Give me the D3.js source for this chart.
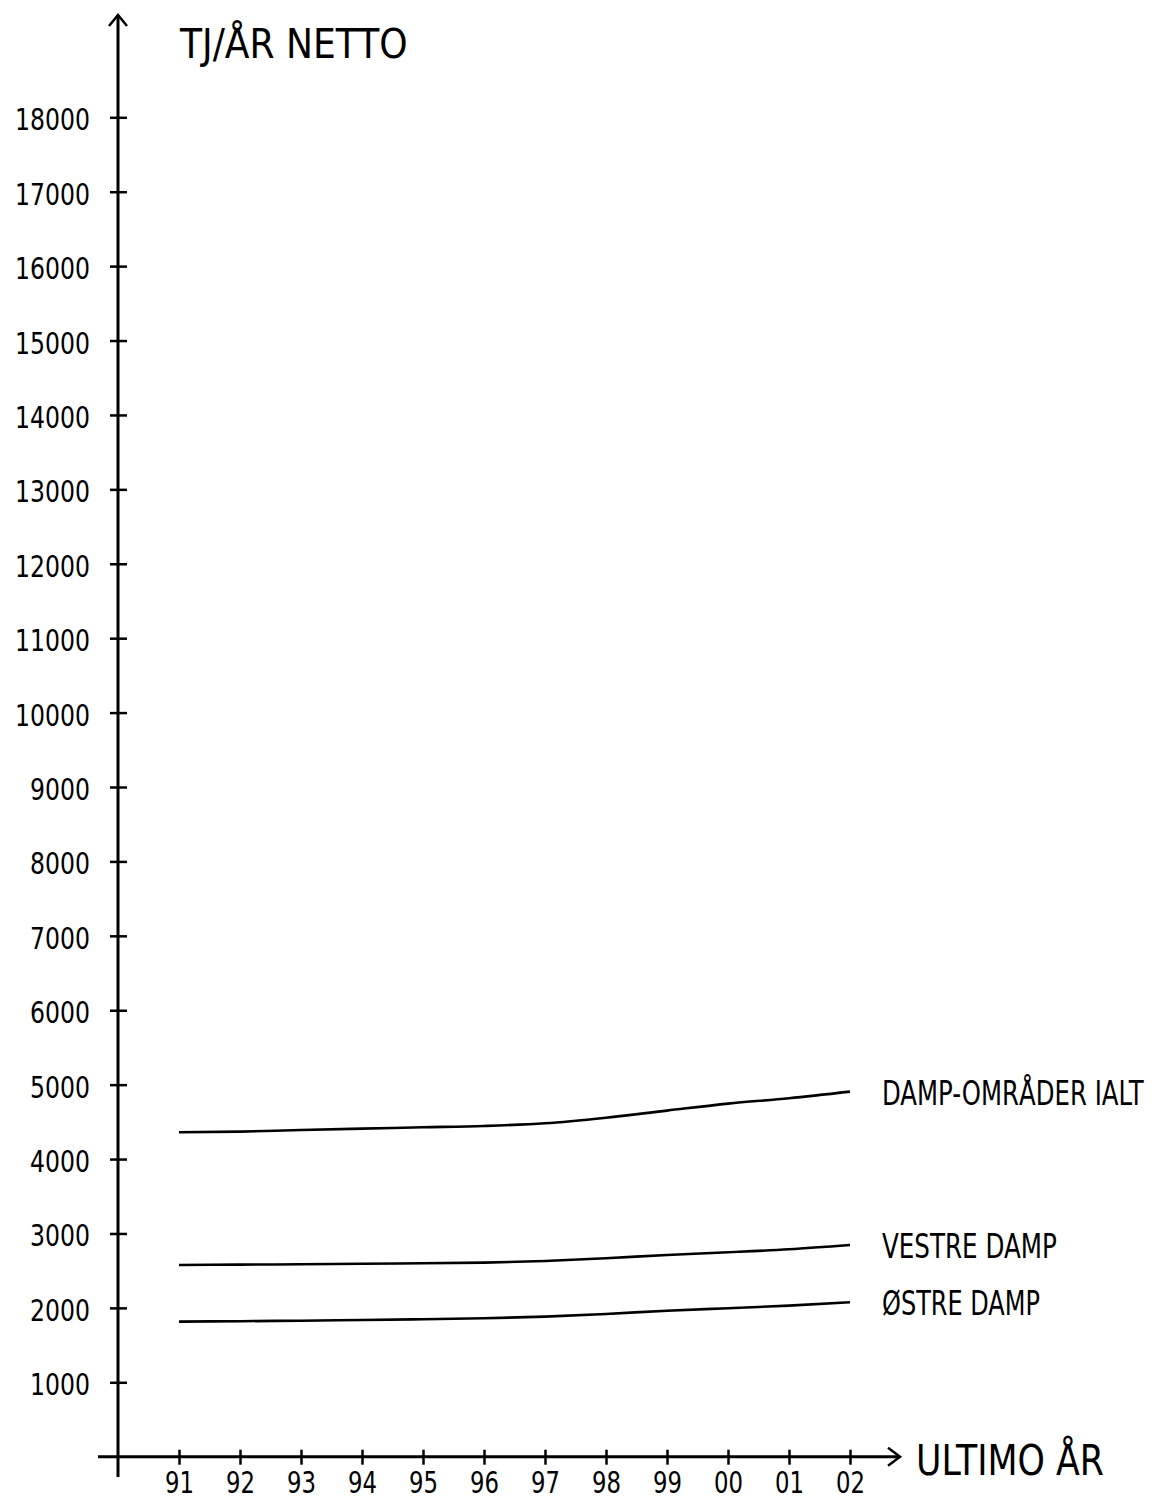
<!DOCTYPE html>
<html>
<head>
<meta charset="utf-8">
<script src="https://cdn.jsdelivr.net/npm/d3@7"></script>
<style>
  html, body { margin: 0; padding: 0; background: #fff; }
  svg { display: block; }
  text { font-family: "DejaVu Sans", sans-serif; fill: #000; }
</style>
</head>
<body>
<svg id="chart" width="1156" height="1501"></svg>
<script>
// ---- data ----
const years = ["91","92","93","94","95","96","97","98","99","00","01","02"];
const yTicks = [1000,2000,3000,4000,5000,6000,7000,8000,9000,10000,11000,12000,13000,14000,15000,16000,17000,18000];
const seriesNames = ["DAMP-OMRÅDER IALT", "VESTRE DAMP", "ØSTRE DAMP"];
const ialt   = [4360, 4368, 4391, 4409, 4427, 4445, 4481, 4556, 4651, 4745, 4817, 4906];
const vestre = [2577, 2581, 2586, 2593, 2599, 2608, 2630, 2667, 2711, 2747, 2788, 2845];
const ostre  = [1815, 1821, 1828, 1837, 1847, 1860, 1882, 1918, 1962, 1995, 2030, 2075];
const yTitle = "TJ/ÅR NETTO";
const xTitle = "ULTIMO ÅR";

const svg = d3.select("#chart");

const x = d3.scalePoint().domain(years).range([179, 850]);
const y = d3.scaleLinear().domain([0, 18000]).range([1456.7, 117.3]);
const x0 = 118;

// helper for condensed plotter-like text: horizontally scaled via transform
function ptext(g, str, px, py, size, charW, anchor) {
  const len = str.length * charW;
  const grp = g.append("g");
  const t = grp.append("text")
    .attr("x", 0).attr("y", 0)
    .attr("text-anchor", "start")
    .attr("font-size", size)
    .text(str);
  const natural = t.node().getComputedTextLength() || len;
  const s = len / natural;
  let sx = px;
  if (anchor === "end") sx = px - len;
  if (anchor === "middle") sx = px - len / 2;
  grp.attr("transform", `translate(${sx},${py}) scale(${s},1)`);
  return grp;
}

// ---- y axis ----
const yAxis = d3.axisLeft(y).tickValues(yTicks).tickSize(8).tickFormat("");
const gy = svg.append("g").attr("transform", `translate(${x0},0)`).call(yAxis);
gy.select(".domain").remove();
gy.selectAll(".tick text").remove();
gy.selectAll(".tick line").attr("x1", -8).attr("x2", 9).attr("stroke", "#000").attr("stroke-width", 2.5);
gy.selectAll(".tick").each(function(d) {
  ptext(d3.select(this), String(d), -28, 12.5, 30, 15, "end");
});

svg.append("line").attr("x1", x0).attr("x2", x0).attr("y1", 15).attr("y2", 1477)
  .attr("stroke", "#000").attr("stroke-width", 3);
svg.append("path").attr("d", `M${x0-9},26 L${x0},15 L${x0+9},26`)
  .attr("fill", "none").attr("stroke", "#000").attr("stroke-width", 2.5);

// ---- x axis ----
const xAxis = d3.axisBottom(x).tickSize(7).tickFormat("");
const gx = svg.append("g").attr("transform", `translate(0,${y(0)})`).call(xAxis);
gx.select(".domain").remove();
gx.selectAll(".tick text").remove();
gx.selectAll(".tick line").attr("y1", -7).attr("y2", 8).attr("stroke", "#000").attr("stroke-width", 2.5);
gx.selectAll(".tick").each(function(d) {
  ptext(d3.select(this), d, 0, 36.5, 30, 14.5, "middle");
});

svg.append("line").attr("x1", 98).attr("x2", 900).attr("y1", y(0)).attr("y2", y(0))
  .attr("stroke", "#000").attr("stroke-width", 3);
svg.append("path").attr("d", `M888,${y(0)-9} L900,${y(0)} L888,${y(0)+9}`)
  .attr("fill", "none").attr("stroke", "#000").attr("stroke-width", 2.5);

// ---- titles ----
ptext(svg, yTitle, 180, 58, 41, 20.7, "start");
ptext(svg, xTitle, 916, 1475, 43, 20.9, "start");

// ---- series ----
const line = d3.line().x((d, i) => x(years[i])).y(d => y(d)).curve(d3.curveMonotoneX);
const allSeries = [ialt, vestre, ostre];
const labelW = [15.4, 15.9, 15.8];
allSeries.forEach((vals, k) => {
  svg.append("path").attr("d", line(vals))
    .attr("fill", "none").attr("stroke", "#000").attr("stroke-width", 2.6);
  ptext(svg, seriesNames[k], 882, y(vals[vals.length - 1]) + 13, 33, labelW[k], "start");
});
</script>
</body>
</html>
